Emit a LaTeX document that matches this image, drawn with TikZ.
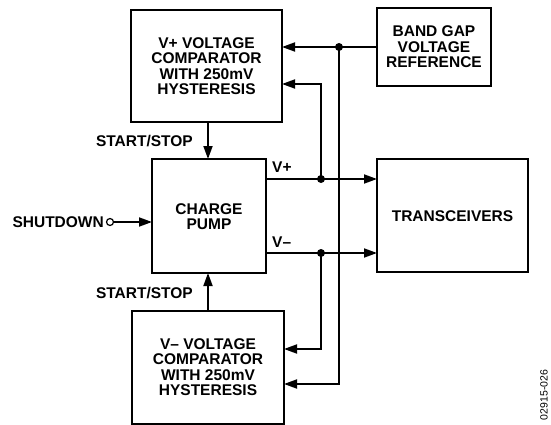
\documentclass[tikz,border=0pt]{standalone}
\usepackage{fontspec}
\setmainfont{Liberation Sans}
\usetikzlibrary{arrows.meta}
\begin{document}
\begin{tikzpicture}[x=1pt,y=-1pt,
  blk/.style={draw, line width=1.8pt, inner sep=0pt},
  lbl/.style={font=\bfseries\fontsize{15.5}{15.5}\selectfont, align=center, inner sep=0pt},
  wire/.style={line width=1.8pt},
  arr/.style={wire, -{Triangle[length=13pt,width=9pt]}},
  dot/.style={circle, fill, inner sep=0pt, minimum size=8pt}]
\useasboundingbox (0,0) rectangle (551,425);
% boxes
\draw[blk] (131,10) rectangle (282,122);
\node[lbl] (vpc) at (206.5,66) {V+ VOLTAGE\\COMPARATOR\\WITH 250mV\\HYSTERESIS};
\draw[blk] (377,8) rectangle (491,86);
\node[lbl] (bg) at (434,47) {BAND GAP\\VOLTAGE\\REFERENCE};
\draw[blk] (152,159) rectangle (266,273);
\node[lbl] (cp) at (209,216.5) {CHARGE\\PUMP};
\draw[blk] (377,159) rectangle (528,272);
\node[lbl] (tr) at (452.5,216) {TRANSCEIVERS};
\draw[blk] (132,311) rectangle (284,424);
\node[lbl] (vmc) at (208,367) {V\textendash{} VOLTAGE\\COMPARATOR\\WITH 250mV\\HYSTERESIS};
% coordinates
\coordinate (vpcTop) at (282,47);
\coordinate (vpcBot) at (282,84);
\coordinate (vmcTop) at (284,349);
\coordinate (vmcBot) at (284,384);
\coordinate (bgW) at (377,47);
\coordinate (cpVp) at (266,179);
\coordinate (cpVm) at (266,253);
\coordinate (trVp) at (377,179);
\coordinate (trVm) at (377,253);
\coordinate (vpcS) at (208,122);
\coordinate (cpN) at (208,159);
\coordinate (vmcN) at (208,311);
\coordinate (cpS) at (208,273);
\coordinate (cpW) at (152,222);
% dots
\node[dot] (d1) at (339,47) {};
\node[dot] (d2) at (321,179) {};
\node[dot] (d3) at (321,253) {};
\node[draw, circle, line width=1.2pt, inner sep=0pt, minimum size=7pt, fill=white] (sd) at (110,222) {};
% wires
\draw[wire] (bgW) -- (d1.center);
\draw[arr] (d1.center) -- (vpcTop);
\draw[arr] (d1.center) -- (339,384) -- (vmcBot);
\draw[arr] (d2.center) -- (321,84) -- (vpcBot);
\draw[arr] (d3.center) -- (321,349) -- (vmcTop);
\draw[arr] (cpVp) -- (trVp);
\draw[arr] (cpVm) -- (trVm);
\draw[arr] (vpcS) -- (cpN);
\draw[arr] (vmcN) -- (cpS);
\draw[arr] (sd.east) -- (cpW);
% labels
\node[lbl, anchor=east] (ss1) at (193,141) {START/STOP};
\node[lbl, anchor=east] (ss2) at (193,293) {START/STOP};
\node[lbl, anchor=west] (vp) at (272,167) {V+};
\node[lbl, anchor=west] (vm) at (272,242) {V\textendash};
\node[lbl, anchor=east] (sdl) at (104,222) {SHUTDOWN};
\node[font=\fontsize{10.5}{10.5}\selectfont, rotate=90, inner sep=0pt] (code) at (544,395) {02915-026};
\end{tikzpicture}
\end{document}
